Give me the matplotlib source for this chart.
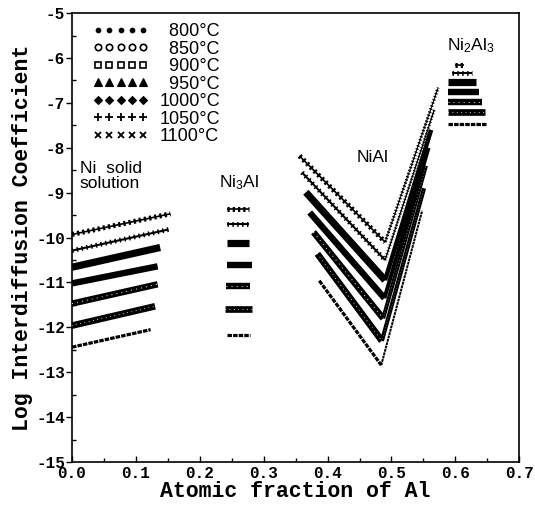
import matplotlib
matplotlib.use("Agg")
import matplotlib.pyplot as plt
from matplotlib.lines import Line2D
from matplotlib.ticker import MultipleLocator, FormatStrFormatter

plt.rcParams['axes.unicode_minus'] = False
plt.rcParams['mathtext.fontset'] = 'custom'
plt.rcParams['mathtext.rm'] = 'Liberation Sans'
plt.rcParams['mathtext.it'] = 'Liberation Sans'

# ---------------- data ----------------
temps = [800, 850, 900, 950, 1000, 1050, 1100]
temp_labels = ["\u2007800\u00b0C", "\u2007850\u00b0C", "\u2007900\u00b0C", "\u2007950\u00b0C",
               "1000\u00b0C", "1050\u00b0C", "1100\u00b0C"]

# Ni solid solution (straight segments)
ss_x0 = [0.0, 0.0, 0.0, 0.0, 0.0, 0.0, 0.0]
ss_x1 = [0.123, 0.130, 0.134, 0.134, 0.138, 0.151, 0.154]
ss_y0 = [-12.44, -11.96, -11.47, -11.02, -10.66, -10.29, -9.93]
ss_y1 = [-12.05, -11.53, -11.04, -10.64, -10.22, -9.82, -9.47]

# Ni3Al (flat bars)
n3_x0 = [0.242, 0.240, 0.241, 0.242, 0.242, 0.242, 0.242]
n3_x1 = [0.278, 0.281, 0.279, 0.281, 0.277, 0.277, 0.277]
n3_y = [-12.18, -11.58, -11.07, -10.61, -10.13, -9.70, -9.36]

# NiAl (V shaped: left branch start, minimum, right branch end)
na_xs = [0.387, 0.384, 0.378, 0.372, 0.366, 0.360, 0.356]
na_ys = [-10.96, -10.36, -9.88, -9.44, -8.99, -8.55, -8.18]
na_xm = [0.484, 0.485, 0.487, 0.489, 0.490, 0.490, 0.490]
na_ym = [-12.84, -12.30, -11.80, -11.35, -10.95, -10.50, -10.10]
na_xe = [0.548, 0.551, 0.554, 0.558, 0.562, 0.567, 0.573]
na_ye = [-9.40, -8.90, -8.40, -8.00, -7.60, -7.15, -6.66]

# Ni2Al3 (flat bars)
n23_x0 = [0.588, 0.588, 0.588, 0.588, 0.589, 0.594, 0.600]
n23_x1 = [0.650, 0.646, 0.642, 0.637, 0.632, 0.626, 0.613]
n23_y = [-7.47, -7.21, -6.97, -6.75, -6.53, -6.34, -6.16]

x_ticks = [0.0, 0.1, 0.2, 0.3, 0.4, 0.5, 0.6, 0.7]
y_ticks = [-15, -14, -13, -12, -11, -10, -9, -8, -7, -6, -5]

# ---------------- styles ----------------
STYLES = [
    dict(lw=2.3, ls=(0, (1.4, 0.35))),                                  # 800 dots
    dict(lw=4.8, ov=dict(lw=0.75, ls=(0, (0.01, 4.2)), cap='round')),   # 850 open circles
    dict(lw=4.6, ov=dict(lw=0.7, ls=(0, (1.0, 4.2)), cap='butt')),      # 900 open squares
    dict(lw=4.6),                                                       # 950 triangles
    dict(lw=5.2),                                                       # 1000 diamonds
    dict(lw=1.5, tk=dict(lw=3.5, ls=(0, (0.3, 0.7)))),                  # 1050 plus
    dict(lw=1.2, tk=dict(lw=3.6, ls=(0, (0.45, 0.6)))),                 # 1100 crosses
]

LEG = [
    dict(marker='o', ms=3.3, mfc='k', mew=0.8),
    dict(marker='o', ms=4.6, mfc='white', mew=1.2),
    dict(marker='s', ms=4.2, mfc='white', mew=1.2),
    dict(marker='^', ms=5.2, mfc='k', mew=0.8),
    dict(marker='D', ms=4.2, mfc='k', mew=0.8),
    dict(marker='+', ms=5.5, mfc='k', mew=1.3),
    dict(marker='x', ms=4.2, mfc='k', mew=1.3),
]

fig = plt.figure(figsize=(5.35, 5.05), dpi=100)
ax = fig.add_axes([0.1346, 0.085, 0.836, 0.889])


def draw(ax, xs, ys, i, scale=1.0):
    st = STYLES[i]
    ls = st.get('ls', '-')
    ax.plot(xs, ys, color='k', lw=st['lw'] * scale, ls=ls, solid_capstyle='butt',
            dash_capstyle='butt', solid_joinstyle='round', zorder=2)
    if 'ov' in st:
        ov = st['ov']
        ax.plot(xs, ys, color='white', lw=ov['lw'] * scale, ls=ov['ls'],
                dash_capstyle=ov['cap'], zorder=3)
    if 'tk' in st:
        tk = st['tk']
        ax.plot(xs, ys, color='k', lw=tk['lw'] * scale, ls=tk['ls'],
                dash_capstyle='butt', zorder=3)


for i in range(len(temps)):
    draw(ax, [ss_x0[i], ss_x1[i]], [ss_y0[i], ss_y1[i]], i)
    draw(ax, [n3_x0[i], n3_x1[i]], [n3_y[i], n3_y[i]], i)
    draw(ax, [na_xs[i], na_xm[i]], [na_ys[i], na_ym[i]], i)
    draw(ax, [na_xm[i], na_xe[i]], [na_ym[i], na_ye[i]], i, scale=0.62)
    draw(ax, [n23_x0[i], n23_x1[i]], [n23_y[i], n23_y[i]], i)

# legend (proxy handles)
handles = [Line2D([], [], ls='none', color='k', markeredgecolor='k', **LEG[i])
           for i in range(len(temps))]
leg = ax.legend(handles, temp_labels, loc='upper left', bbox_to_anchor=(0.046, 0.978),
                numpoints=5, handlelength=3.1, handletextpad=0.6, labelspacing=0.03,
                frameon=False, borderpad=0.0, borderaxespad=0.0,
                prop=dict(family=['Liberation Sans', 'DejaVu Sans'], size=13))

# region labels
lab_font = dict(family=['Liberation Sans', 'DejaVu Sans'], size=12.5, color='k')
ax.text(0.012, -8.62, "Ni  solid\nsolution", ha='left', va='center', linespacing=1.0, **lab_font)
ax.text(0.261, -8.78, r"Ni${}_3$Al", ha='center', va='center', **lab_font)
ax.text(0.471, -8.22, "NiAl", ha='center', va='center', **lab_font)
ax.text(0.624, -5.72, r"Ni${}_2$Al${}_3$", ha='center', va='center', **lab_font)

# axes
ax.set_xlim(0.0, 0.7)
ax.set_ylim(-15, -5)
ax.set_xticks(x_ticks)
ax.set_yticks(y_ticks)
ax.xaxis.set_minor_locator(MultipleLocator(0.05))
ax.yaxis.set_minor_locator(MultipleLocator(0.5))
ax.xaxis.set_major_formatter(FormatStrFormatter('%.1f'))
ax.yaxis.set_major_formatter(FormatStrFormatter('%d'))

for lab in ax.get_xticklabels() + ax.get_yticklabels():
    lab.set_fontfamily(['Liberation Mono', 'DejaVu Sans Mono'])
    lab.set_fontsize(11.5)
    lab.set_fontweight('bold')

ax.tick_params(axis='x', which='major', direction='in', length=4, width=1.0, pad=3)
ax.tick_params(axis='x', which='minor', direction='in', length=3, width=1.0)
ax.tick_params(axis='y', which='major', direction='out', length=4, width=1.0, pad=1)
ax.tick_params(axis='y', which='minor', direction='in', length=3, width=1.0)
for sp in ax.spines.values():
    sp.set_linewidth(1.2)

label_font = dict(family=['Liberation Mono', 'DejaVu Sans Mono'], size=15.5, weight='bold')
ax.set_xlabel("Atomic fraction of Al", labelpad=0, **label_font)
ax.set_ylabel("Log Interdiffusion Coefficient", labelpad=2, **label_font)

fig.savefig("out.png", dpi=100)
